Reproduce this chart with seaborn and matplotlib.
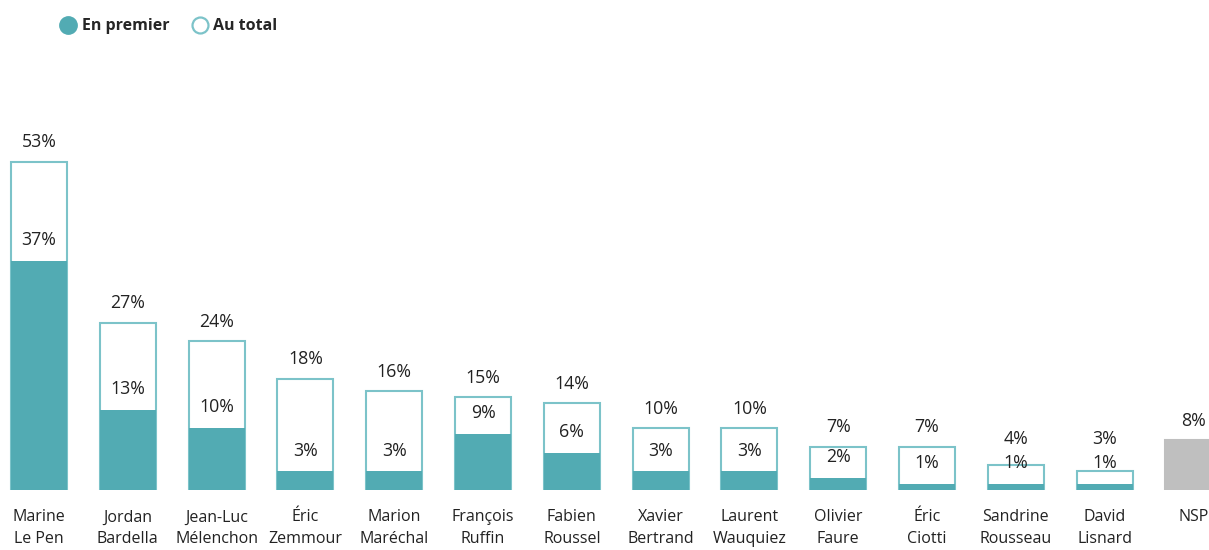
import matplotlib
matplotlib.use("Agg")
import matplotlib.pyplot as plt
from matplotlib.lines import Line2D
import seaborn as sns
import numpy as np

# Poll figures
names = ["Marine\nLe Pen", "Jordan\nBardella", "Jean-Luc\nMélenchon", "Éric\nZemmour",
         "Marion\nMaréchal", "François\nRuffin", "Fabien\nRoussel", "Xavier\nBertrand",
         "Laurent\nWauquiez", "Olivier\nFaure", "Éric\nCiotti", "Sandrine\nRousseau",
         "David\nLisnard", "NSP"]
au_total = [53, 27, 24, 18, 16, 15, 14, 10, 10, 7, 7, 4, 3, 8]
en_premier = [37, 13, 10, 3, 3, 9, 6, 3, 3, 2, 1, 1, 1, np.nan]

teal = "#52abb3"
teal_edge = "#7cc3c9"
grey = "#bfbfbf"
txt = "#222222"

sns.set_style("white")
plt.rcParams["font.family"] = ["Open Sans", "DejaVu Sans"]

fig = plt.figure(figsize=(12.09, 5.5), dpi=100)
ax = fig.add_axes([0, 60 / 550, 1, 410 / 550])
px_per_unit = 6.19

# Outline bars: overall mentions
sns.barplot(x=names, y=au_total, color="white", edgecolor=teal_edge,
            linewidth=1.5, width=0.63, ax=ax, zorder=2)
nsp = ax.patches[-1]
nsp.set_facecolor(grey)
nsp.set_edgecolor(grey)

# Filled bars: first mentions
n_outline = len(ax.patches)
sns.barplot(x=names, y=en_premier, color=teal, linewidth=0, width=0.63,
            ax=ax, zorder=3)
for p in ax.patches[n_outline:]:
    p.set_facecolor(teal)
    p.set_edgecolor("none")

label_size = 12.8
inner_off = 15   # points above the filled bar
outer_off = 14   # points above the outline bar
min_gap = 17     # points between stacked labels
for i, (t, f) in enumerate(zip(au_total, en_premier)):
    off_t = outer_off
    if not np.isnan(f):
        ax.annotate(f"{f:.0f}%", (i, f), xytext=(0, inner_off), textcoords="offset points",
                    ha="center", va="center", fontsize=label_size, color=txt, zorder=5)
        # keep the total label clear of the first-mention label
        gap_needed = (f - t) * px_per_unit * 0.72 + inner_off + min_gap
        off_t = max(outer_off, gap_needed)
    ax.annotate(f"{t}%", (i, t), xytext=(0, off_t), textcoords="offset points",
                ha="center", va="center", fontsize=label_size, color=txt, zorder=5)

ax.set_xlim(-0.439, 13.175)
ax.set_ylim(0, 410 / px_per_unit)
ax.set_yticks([])
ax.tick_params(axis="x", length=0, labelsize=11.5, labelcolor=txt, pad=14)
for lbl in ax.get_xticklabels():
    lbl.set_linespacing(1.45)
sns.despine(ax=ax, left=True, bottom=True)

handles = [
    Line2D([], [], marker="o", linestyle="none", markersize=12.5,
           markerfacecolor=teal, markeredgecolor=teal),
    Line2D([], [], marker="o", linestyle="none", markersize=11.5,
           markerfacecolor="white", markeredgecolor=teal_edge, markeredgewidth=1.6),
]
fig.legend(handles, ["En premier", "Au total"], loc="upper left",
           bbox_to_anchor=(0.038, 0.993), ncol=2, frameon=False,
           prop={"weight": "bold", "size": 11.5}, handletextpad=0.35,
           columnspacing=1.4, handlelength=1.0)

fig.savefig("out.png", dpi=100)
